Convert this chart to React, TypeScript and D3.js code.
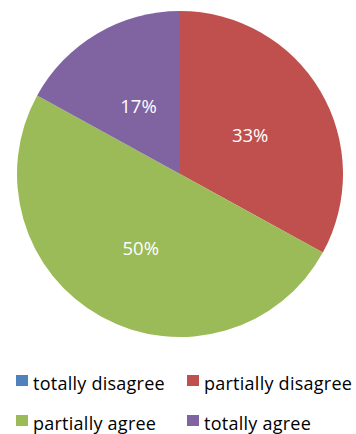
import React from "react";
import * as d3 from "d3";

const categories = ["totally disagree", "partially disagree", "partially agree", "totally agree"];
const values = [0, 33, 50, 17];
const colors = ["#4F81BD", "#C0504D", "#9BBB59", "#8064A2"];

export default function App() {
  const W = 356, H = 434;
  const cx = 180, cy = 174, r = 163;
  const pie = d3.pie<number>().sort(null).value((d) => d);
  const arcs = pie(values);
  const arcGen = d3.arc<d3.PieArcDatum<number>>().innerRadius(0).outerRadius(r);
  const labelArc = d3.arc<d3.PieArcDatum<number>>().innerRadius(r * 0.5).outerRadius(r * 0.5);
  const font = "Open Sans, sans-serif";
  const legendPos = [
    [16, 375], [187, 375], [16, 415], [187, 415],
  ];
  return (
    <svg width={W} height={H} style={{ position: "absolute", left: 0, top: 0, background: "#fff" }}>
      <g transform={`translate(${cx},${cy})`}>
        {arcs.map((a, i) => (
          <path key={i} d={arcGen(a) || ""} fill={colors[i]} />
        ))}
        {arcs.map((a, i) => {
          if (a.data === 0) return null;
          const [x, y] = labelArc.centroid(a);
          return (
            <text key={"l" + i} x={x} y={y + 2.5} dy="0.36em" textAnchor="middle" fill="#fff"
              fontFamily={font} fontSize={18.5}>
              {`${Math.round(a.data)}%`}
            </text>
          );
        })}
      </g>
      {categories.map((c, i) => (
        <g key={c} transform={`translate(${legendPos[i][0]},${legendPos[i][1]})`}>
          <rect x={0} y={0} width={12} height={11} fill={colors[i]} />
          <text x={17} y={15} fontFamily={font} fontSize={18} letterSpacing={0.25} fill="#000">{c}</text>
        </g>
      ))}
    </svg>
  );
}
